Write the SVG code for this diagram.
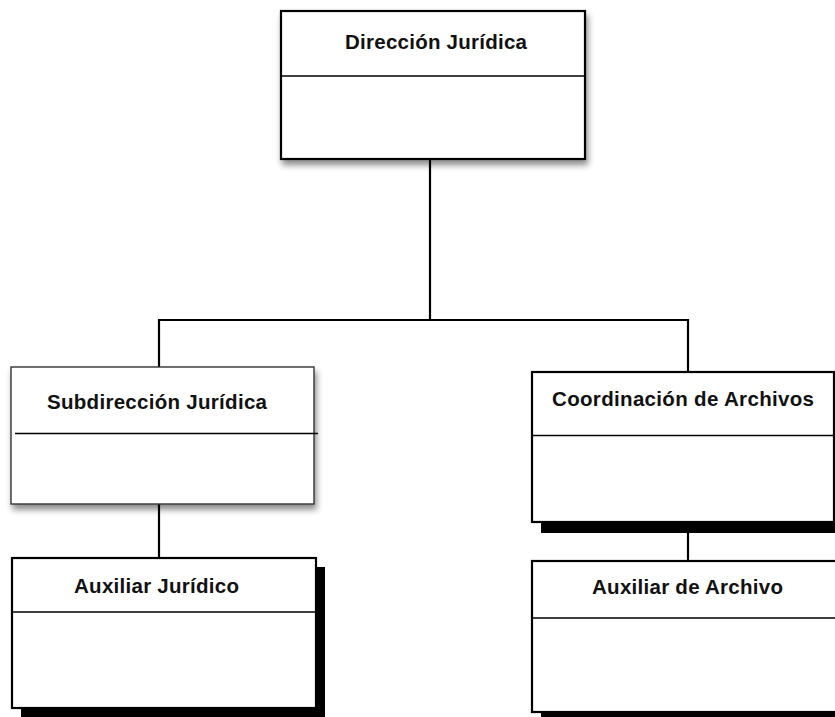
<svg xmlns="http://www.w3.org/2000/svg" width="835" height="717" viewBox="0 0 835 717">
<defs>
<filter id="soft" x="-10%" y="-10%" width="125%" height="130%">
<feDropShadow dx="2" dy="5" stdDeviation="3" flood-color="#000" flood-opacity="0.45"/>
</filter>
</defs>
<style>
.box{fill:#fff;stroke:#000;stroke-width:2.2}
.thin{fill:#fff;stroke:#333;stroke-width:1.4}
.div{stroke:#000;stroke-width:1.5;fill:none}
.shadow{fill:#000}
.lbl{font-family:"Liberation Sans",Arial,sans-serif;font-weight:bold;font-size:20.5px;fill:#111}
.con{stroke:#000;stroke-width:2.2;fill:none}
</style>
<rect width="835" height="717" fill="#fff"/>
<g id="connectors">
<line class="con" x1="430" y1="159" x2="430" y2="320"/>
<line class="con" x1="159" y1="320" x2="688" y2="320"/>
<line class="con" x1="159" y1="319" x2="159" y2="367"/>
<line class="con" x1="688" y1="319" x2="688" y2="372"/>
<line class="con" x1="159" y1="504" x2="159" y2="558"/>
<line class="con" x1="688" y1="532" x2="688" y2="561"/>
</g>
<g id="direccion">
<rect class="box" x="281" y="11" width="304" height="148" filter="url(#soft)"/>
<line class="div" x1="281" y1="76" x2="585" y2="76"/>
<text class="lbl" x="345" y="49" textLength="182" lengthAdjust="spacing">Dirección Jurídica</text>
</g>
<g id="subdireccion">
<rect class="thin" x="11" y="367" width="303" height="137" filter="url(#soft)"/>
<line class="div" x1="15" y1="433.5" x2="318" y2="433.5" stroke-width="1.2"/>
<text class="lbl" x="47" y="409" textLength="220" lengthAdjust="spacing">Subdirección Jurídica</text>
</g>
<g id="coordinacion">
<rect class="shadow" x="541" y="381" width="300" height="152"/>
<rect class="box" x="532" y="372" width="302" height="150"/>
<line class="div" x1="532" y1="435.5" x2="834" y2="435.5"/>
<text class="lbl" x="552" y="406" textLength="262" lengthAdjust="spacing">Coordinación de Archivos</text>
</g>
<g id="auxiliar-juridico">
<rect class="shadow" x="21" y="567" width="304" height="152"/>
<rect class="box" x="12" y="558" width="304" height="150"/>
<line class="div" x1="12" y1="612" x2="316" y2="612"/>
<text class="lbl" x="74" y="593" textLength="165" lengthAdjust="spacing">Auxiliar Jurídico</text>
</g>
<g id="auxiliar-archivo">
<rect class="shadow" x="541" y="570" width="310" height="152"/>
<rect class="box" x="532" y="561" width="310" height="151"/>
<line class="div" x1="532" y1="618" x2="835" y2="618"/>
<text class="lbl" x="592" y="594" textLength="191" lengthAdjust="spacing">Auxiliar de Archivo</text>
</g>
</svg>
